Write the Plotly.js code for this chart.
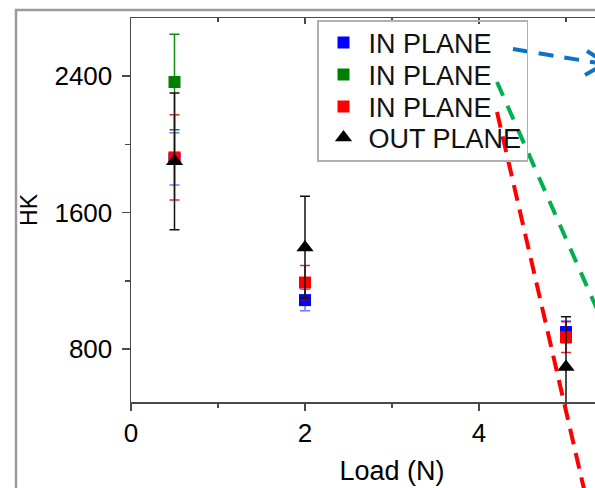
<!DOCTYPE html>
<html>
<head>
<meta charset="utf-8">
<script src="https://cdn.plot.ly/plotly-3.0.1.min.js"></script>
<style>
html, body { margin: 0; padding: 0; overflow: hidden; background: #fff; }
#chart { width: 700px; height: 540px; }
</style>
</head>
<body>
<div id="chart"></div>
<script>
// ---- data ----
const seriesNames = ["IN PLANE", "IN PLANE", "IN PLANE", "OUT PLANE"];
const blueLoad = [0.5, 2, 5];
const blueHK = [1915, 1087, 900];
const blueErr = [153, 63, 65];

const greenLoad = [0.5];
const greenHK = [2365];
const greenErr = [280];

const redLoad = [0.5, 2, 5];
const redHK = [1923, 1190, 870];
const redErr = [250, 100, 90];

const outLoad = [0.5, 2, 5];
const outHK = [1900, 1395, 695];
const outErr = [400, 300, 295];

const xTickVals = [0, 2, 4];
const xTickText = ["0", "2", "4"];
const xTitle = "Load (N)";
const yTitle = "HK";

// ---- layout geometry (pixels) ----
const W = 700, H = 540;
const L = 131, T = 18, PW = 522, PH = 384;
const px = x => (x - L) / PW;
const py = y => (T + PH - y) / PH;

const font = "Liberation Sans, Arial, sans-serif";

function mk(x, y, err, name, color, errColor, symbol, size) {
  return {
    type: "scatter", mode: "markers", x: x, y: y, name: name,
    marker: { color: color, symbol: symbol, size: size, line: { width: 0 } },
    error_y: { type: "data", array: err, visible: true, color: errColor, thickness: 1.5, width: 5 },
    showlegend: true
  };
}

const traces = [
  mk(blueLoad, blueHK, blueErr, seriesNames[0], "#0000ff", "rgba(70,70,255,0.75)", "square", 12),
  mk(greenLoad, greenHK, greenErr, seriesNames[1], "#008000", "#108a10", "square", 12),
  mk(redLoad, redHK, redErr, seriesNames[2], "#ff0000", "rgba(230,0,0,0.85)", "square", 12),
  mk(outLoad, outHK, outErr, seriesNames[3], "#000000", "#111111", "triangle-up", 15),
  { type: "scatter", x: [], y: [], xaxis: "x2", showlegend: false, hoverinfo: "skip" }
];

const axisLine = "#4a4a4a";

const layout = {
  width: W, height: H,
  margin: { l: L, r: W - L - PW, t: T, b: H - T - PH, pad: 0 },
  paper_bgcolor: "#fff", plot_bgcolor: "#fff",
  font: { family: font, color: "#000" },
  showlegend: true,
  legend: {
    x: px(317), y: py(20), xanchor: "left", yanchor: "top",
    bgcolor: "rgba(255,255,255,0)", bordercolor: "#b0b0b0", borderwidth: 1.5,
    font: { family: font, size: 27, color: "#111" },
    itemwidth: 40, tracegroupgap: 0
  },
  xaxis: {
    range: [0, 6], tickvals: xTickVals, ticktext: xTickText,
    showgrid: false, zeroline: false,
    showline: true, linecolor: axisLine, linewidth: 1.5,
    ticks: "outside", ticklen: 7, tickwidth: 1.5, tickcolor: axisLine,
    minor: { dtick: 1, tick0: 0, ticks: "outside", ticklen: 4, tickwidth: 1.5, tickcolor: axisLine },
    tickfont: { family: font, size: 26, color: "#000" },
    title: { text: xTitle, font: { family: font, size: 27, color: "#000" }, standoff: 14 }
  },
  xaxis2: {
    overlaying: "x", side: "top", anchor: "y", matches: "x",
    range: [0, 6], tickvals: xTickVals,
    showgrid: false, zeroline: false, showticklabels: false,
    showline: true, linecolor: axisLine, linewidth: 1.5,
    ticks: "inside", ticklen: 6, tickwidth: 1.5, tickcolor: axisLine,
    minor: { dtick: 1, tick0: 0, ticks: "inside", ticklen: 4, tickwidth: 1.5, tickcolor: axisLine }
  },
  yaxis: {
    range: [490, 2740], dtick: 800, tick0: 0,
    showgrid: false, zeroline: false,
    showline: true, linecolor: axisLine, linewidth: 1.5,
    ticks: "outside", ticklen: 8, tickwidth: 1.5, tickcolor: axisLine,
    minor: { dtick: 400, ticks: "outside", ticklen: 5, tickwidth: 1.5, tickcolor: axisLine },
    tickfont: { family: font, size: 26, color: "#000" },
    ticklabelstandoff: 4,
    title: { text: yTitle, font: { family: font, size: 23, color: "#000" }, standoff: 10 }
  },
  shapes: [
    // outer figure frame
    { type: "rect", xref: "paper", yref: "paper", x0: px(16), y0: py(700), x1: px(900), y1: py(10),
      line: { color: "#9a9a9a", width: 2.5 }, fillcolor: "rgba(0,0,0,0)", layer: "below" },
    // blue pointer
    { type: "line", xref: "paper", yref: "paper", x0: px(513), y0: py(49), x1: px(604), y1: py(64),
      line: { color: "#0a72c8", width: 4, dash: "15px,11px" } },
    { type: "path", xref: "paper", yref: "paper",
      path: "M " + px(587) + "," + py(51) + " L " + px(606) + "," + py(63) + " L " + px(585) + "," + py(75),
      line: { color: "#0a72c8", width: 4 } },
    // green pointer
    { type: "line", xref: "paper", yref: "paper", x0: px(497), y0: py(82), x1: px(600), y1: py(316),
      line: { color: "#00b050", width: 4, dash: "15px,11px" } },
    // red pointer
    { type: "line", xref: "paper", yref: "paper", x0: px(497), y0: py(112), x1: px(590), y1: py(515),
      line: { color: "#ff0000", width: 4, dash: "16px,9px" } }
  ]
};

Plotly.newPlot("chart", traces, layout, { displayModeBar: false, staticPlot: true }).then(gd => {
  // tighten legend row spacing to match the reference
  const rows = gd.querySelectorAll("g.legend g.traces");
  const offs = [0, 32, 64, 95];
  let base = null;
  rows.forEach((g, i) => {
    const m = /translate\(\s*([-\d.]+)[\s,]+([-\d.]+)\s*\)/.exec(g.getAttribute("transform") || "");
    if (!m) return;
    const x = parseFloat(m[1]), y = parseFloat(m[2]);
    if (base === null) base = y - 3;
    g.setAttribute("transform", "translate(" + x + "," + (base + offs[i]) + ")");
  });
  const bg = gd.querySelector("g.legend rect.bg");
  if (bg) bg.setAttribute("height", 140);
});
</script>
</body>
</html>
